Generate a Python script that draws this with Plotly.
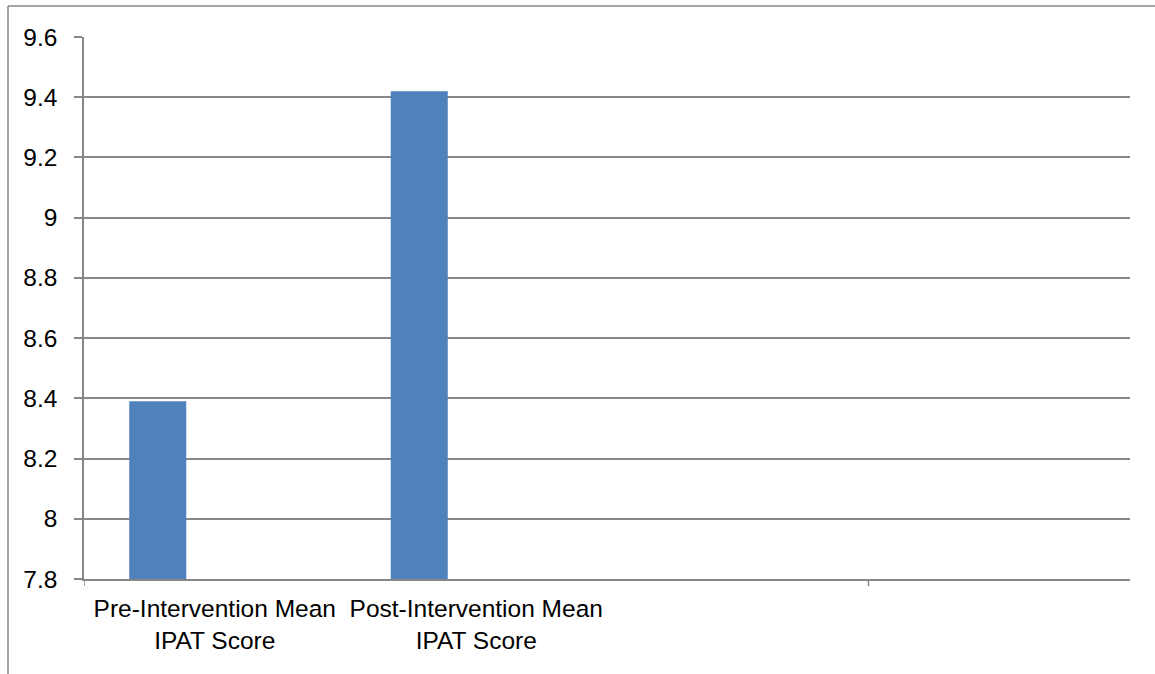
import plotly.graph_objects as go

categories = ["Pre-Intervention Mean<br>IPAT Score", "Post-Intervention Mean<br>IPAT Score", " ", "  "]
series1 = [8.39, 9.42, None, None]
series2 = [None, None, None, None]
series3 = [None, None, None, None]
y_ticks = [7.8, 8.0, 8.2, 8.4, 8.6, 8.8, 9.0, 9.2, 9.4, 9.6]
y_tick_text = ["7.8", "8", "8.2", "8.4", "8.6", "8.8", "9", "9.2", "9.4", "9.6"]

W, H = 1155, 674
ML, MR, MT, MB = 84, 25, 37, 95
PW, PH = W - ML - MR, H - MT - MB
GRAY = "#878787"
FONT = "Liberation Sans"

fig = go.Figure()
for name, vals in [("Series1", series1), ("Series2", series2), ("Series3", series3)]:
    fig.add_trace(go.Bar(x=categories, y=vals, name=name, marker_color="#4F81BD",
                         marker_line_width=0, showlegend=False))

fig.update_layout(
    width=W, height=H,
    margin=dict(l=ML, r=MR, t=MT, b=MB),
    paper_bgcolor="white", plot_bgcolor="white",
    barmode="group", bargap=0.346, bargroupgap=0,
    font=dict(family=FONT, size=24, color="black"),
    xaxis=dict(type="category", categoryorder="array", categoryarray=categories,
               showline=True, linecolor=GRAY, linewidth=1.5, showgrid=False,
               ticks="", tickfont=dict(size=24.5), ticklabelstandoff=7,
               range=[-0.5, 3.5], fixedrange=True),
    yaxis=dict(range=[7.8, 9.6], tickvals=y_ticks, ticktext=y_tick_text,
               showline=True, linecolor=GRAY, linewidth=1.5,
               showgrid=True, gridcolor=GRAY, gridwidth=1.5,
               ticks="outside", ticklen=8, tickcolor=GRAY, tickwidth=1.5,
               ticklabelstandoff=12, zeroline=False, tickfont=dict(size=24.5)),
)

# category-boundary tick marks below x axis
for xb in [-0.5, 2.5]:
    fig.add_shape(type="line", xref="x", yref="paper", ysizemode="pixel", yanchor=0,
                  x0=xb, x1=xb, y0=0, y1=-7, line=dict(color=GRAY, width=1.5))

# outer chart frame (top and left edges)
fx = (8 - ML) / PW
fy = 1 + (MT - 6) / PH
fig.add_shape(type="line", xref="paper", yref="paper", x0=fx, x1=(W - ML) / PW + 0.01,
              y0=fy, y1=fy, line=dict(color=GRAY, width=1.5))
fig.add_shape(type="line", xref="paper", yref="paper", x0=fx, x1=fx,
              y0=fy, y1=-(MB + 5) / PH, line=dict(color=GRAY, width=1.5))

fig.write_html("out.html")
